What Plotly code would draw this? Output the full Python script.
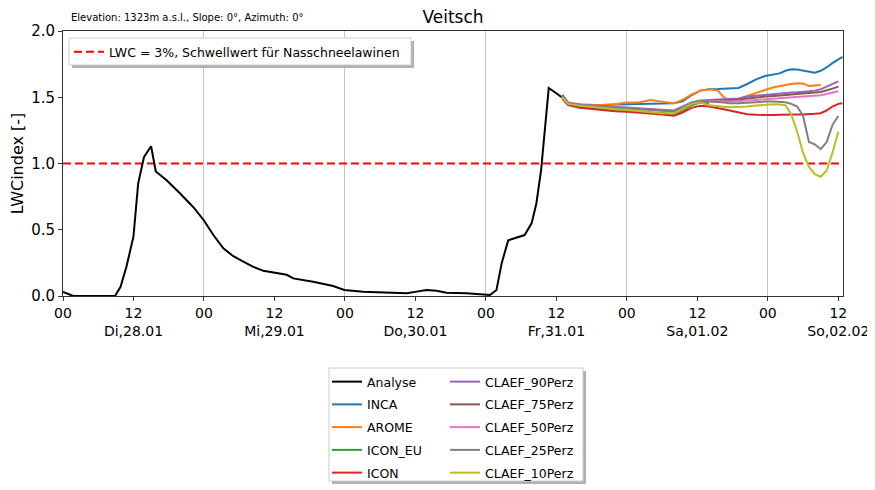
import plotly.graph_objects as go

# ---------------- data ----------------
# hours since Di 28.01 00:00
analyse_h = [0, 1.75, 5, 8.85, 9.8, 10.8, 12, 12.8, 13.8, 15, 15.8, 17.6, 19.9, 22.2, 24, 25.6,
             27.3, 29, 30.7, 32.4, 34.1, 36.4, 38.1, 39.2, 42.6, 46, 47.9, 51.1, 55, 58.5, 60.2,
             61.9, 63.6, 65.3, 68.7, 71, 72.7, 73.8, 74.7, 75.8, 76.9, 78.6, 79.8, 80.6, 81.4,
             82.0, 82.7, 84.0, 84.9]
analyse_v = [0.03, 0.0, 0.0, 0.0, 0.07, 0.22, 0.45, 0.85, 1.05, 1.13, 0.94, 0.875, 0.775, 0.67,
             0.57, 0.46, 0.36, 0.30, 0.26, 0.22, 0.19, 0.176, 0.16, 0.133, 0.108, 0.075, 0.045,
             0.033, 0.028, 0.02, 0.033, 0.045, 0.04, 0.025, 0.02, 0.012, 0.008, 0.045, 0.25, 0.42,
             0.435, 0.46, 0.55, 0.70, 0.95, 1.25, 1.57, 1.53, 1.50]

fc_h = [85, 86, 88, 90, 92, 94, 96, 98, 100, 102, 104, 105.5, 107, 108.5, 110, 111.5, 112.5,
        113.5, 115, 116.5, 118, 119.5, 121, 122, 123, 124, 125, 126, 127, 128, 129, 130, 131,
        132, 132.7]

inca = [1.50, 1.45, 1.445, 1.44, 1.44, 1.445, 1.446, 1.45, 1.45, 1.45, 1.455, 1.47, 1.515, 1.55,
        1.56, 1.562, 1.563, 1.565, 1.57, 1.60, 1.635, 1.66, 1.672, 1.68, 1.70, 1.712, 1.71,
        1.703, 1.695, 1.685, 1.70, 1.725, 1.757, 1.785, 1.805]
arome = [1.50, 1.45, 1.44, 1.44, 1.443, 1.447, 1.46, 1.46, 1.48, 1.467, 1.455, 1.48, 1.52, 1.55,
         1.56, 1.55, 1.50, 1.472, 1.485, 1.51, 1.535, 1.555, 1.575, 1.585, 1.595, 1.60, 1.605,
         1.603, 1.585, 1.59, 1.592, None, None, None, None]
icon_eu = [1.50, 1.445, 1.43, 1.42, 1.41, 1.40, 1.395, 1.39, 1.385, 1.378, 1.375, 1.40, 1.44,
           1.46, 1.455, None, None, None, None, None, None, None, None, None, None, None, None,
           None, None, None, None, None, None, None, None]
icon = [1.49, 1.44, 1.42, 1.41, 1.40, 1.395, 1.39, 1.385, 1.38, 1.37, 1.36, 1.385, 1.42, 1.435,
        1.43, 1.42, 1.41, 1.40, 1.385, 1.372, 1.367, 1.365, 1.366, 1.368, 1.37, 1.37, 1.37, 1.37,
        1.37, 1.375, 1.38, 1.40, 1.43, 1.45, 1.455]
claef_90 = [1.52, 1.46, 1.445, 1.44, 1.435, 1.43, 1.425, 1.42, 1.415, 1.405, 1.40, 1.43, 1.46,
            1.475, 1.478, 1.48, 1.48, 1.482, 1.49, 1.505, 1.512, 1.518, 1.524, 1.528, 1.532,
            1.536, 1.538, 1.54, 1.545, 1.55, 1.56, 1.58, 1.60, 1.62, None]
claef_75 = [1.515, 1.455, 1.44, 1.435, 1.43, 1.425, 1.42, 1.415, 1.41, 1.40, 1.395, 1.425, 1.455,
            1.47, 1.472, 1.474, 1.475, 1.477, 1.482, 1.49, 1.50, 1.505, 1.51, 1.513, 1.516, 1.52,
            1.523, 1.526, 1.53, 1.535, 1.54, 1.55, 1.565, 1.58, None]
claef_50 = [1.51, 1.455, 1.44, 1.435, 1.43, 1.425, 1.42, 1.415, 1.41, 1.40, 1.395, 1.425, 1.455,
            1.47, 1.472, 1.47, 1.47, 1.468, 1.47, 1.475, 1.48, 1.485, 1.49, 1.49, 1.495, 1.50,
            1.50, 1.502, 1.505, 1.51, 1.515, 1.525, 1.535, 1.545, None]
claef_25 = [1.51, 1.455, 1.44, 1.435, 1.43, 1.425, 1.42, 1.415, 1.41, 1.40, 1.395, 1.42, 1.455,
            1.47, 1.47, 1.465, 1.46, 1.455, 1.455, 1.46, 1.465, 1.467, 1.467, 1.467, 1.462, 1.45,
            1.43, 1.36, 1.163, 1.145, 1.108, 1.16, 1.29, 1.358, None]
claef_10 = [1.50, 1.45, 1.435, 1.425, 1.415, 1.41, 1.404, 1.395, 1.39, 1.38, 1.38, 1.41, 1.45,
            1.46, 1.44, 1.43, 1.428, 1.425, 1.425, 1.43, 1.438, 1.445, 1.447, 1.445, 1.44, 1.37,
            1.24, 1.08, 0.975, 0.92, 0.90, 0.945, 1.08, 1.24, None]

threshold_v = 1.0
x_range = [0, 132.8]
tick_hours = [0, 12, 24, 36, 48, 60, 72, 84, 96, 108, 120, 132]
day_labels = ["Di,28.01", "Mi,29.01", "Do,30.01", "Fr,31.01", "Sa,01.02", "So,02.02"]
midnight_hours = [24, 48, 72, 96, 120]
y_ticks = [0.0, 0.5, 1.0, 1.5, 2.0]

# ---------------- figure ----------------
FONT = "DejaVu Sans"
fig = go.Figure()

fig.add_trace(go.Scatter(x=x_range, y=[threshold_v, threshold_v], mode="lines",
                         name="LWC = 3%, Schwellwert für Nasschneelawinen",
                         line=dict(color="#ff0000", width=2, dash="8px,4px"),
                         legend="legend"))

left_col = [("Analyse", analyse_h, analyse_v, "#000000"),
            ("INCA", fc_h, inca, "#1f77b4"),
            ("AROME", fc_h, arome, "#ff7f0e"),
            ("ICON_EU", fc_h, icon_eu, "#2ca02c"),
            ("ICON", fc_h, icon, "#d62728")]
right_col = [("CLAEF_90Perz", fc_h, claef_90, "#9467bd"),
             ("CLAEF_75Perz", fc_h, claef_75, "#8c564b"),
             ("CLAEF_50Perz", fc_h, claef_50, "#e377c2"),
             ("CLAEF_25Perz", fc_h, claef_25, "#7f7f7f"),
             ("CLAEF_10Perz", fc_h, claef_10, "#bcbd22")]

for lg, col in (("legend2", left_col), ("legend3", right_col)):
    for name, xs, ys, c in col:
        fig.add_trace(go.Scatter(x=xs, y=ys, mode="lines", name=name, legendgroup=name,
                                 line=dict(color=c, width=2), legend=lg,
                                 connectgaps=False))

tick_text = []
for i, h in enumerate(tick_hours):
    if i % 2 == 0:
        tick_text.append("00")
    else:
        tick_text.append("12<br>" + day_labels[i // 2])

# page body has an 8px margin: figure occupies window pixels 8..875 / 8..490
OFF = 8
WIN_W, WIN_H = 875, 490
W, H = WIN_W - OFF, WIN_H - OFF
# plot area in window pixels: x 63..843, y 31..296
PX0, PX1, PY0, PY1 = 63, 843, 31, 296
L, R, T, B = PX0 - OFF, WIN_W - PX1, PY0 - OFF, WIN_H - PY1
pw, ph = PX1 - PX0, PY1 - PY0


def px(xw):
    return (xw - PX0) / pw


def py(yw):
    return (PY1 - yw) / ph


LEG_FONT = dict(size=12.5, family=FONT)

fig.update_layout(
    width=W, height=H,
    margin=dict(l=L, r=R, t=T, b=B, autoexpand=False),
    paper_bgcolor="white", plot_bgcolor="white",
    font=dict(family=FONT, size=13, color="black"),
    title=dict(text="Veitsch", x=0.5, xref="paper", xanchor="center",
               y=1 - (17 - OFF) / H, yref="container", yanchor="middle",
               font=dict(size=17, family=FONT, color="black")),
    showlegend=True,
    legend=dict(x=px(69), y=py(37), xanchor="left", yanchor="top",
                bgcolor="rgba(0,0,0,0)", borderwidth=0, font=LEG_FONT),
    legend2=dict(x=px(327), y=py(367), xanchor="left", yanchor="top",
                 bgcolor="rgba(0,0,0,0)", borderwidth=0, tracegroupgap=3.5,
                 font=LEG_FONT),
    legend3=dict(x=px(445), y=py(367), xanchor="left", yanchor="top",
                 bgcolor="rgba(0,0,0,0)", borderwidth=0, tracegroupgap=3.5,
                 font=LEG_FONT),
    xaxis=dict(range=x_range, tickmode="array", tickvals=tick_hours, ticktext=tick_text,
               showgrid=False, zeroline=False, showline=True, linecolor="#333333",
               linewidth=1, mirror=True, ticks="outside", ticklen=4, tickcolor="#333333",
               tickfont=dict(size=14, family=FONT),
               minor=dict(tickmode="array", tickvals=midnight_hours, showgrid=True,
                          gridcolor="#c4c4c4", gridwidth=1, ticks="")),
    yaxis=dict(range=[0, 2], tickmode="array", tickvals=y_ticks, tickformat=".1f",
               showgrid=False, zeroline=False, showline=True, linecolor="#333333",
               linewidth=1, mirror=True, ticks="outside", ticklen=4, tickcolor="#333333",
               tickfont=dict(size=15, family=FONT),
               title=dict(text="LWCindex [-]", font=dict(size=16, family=FONT), standoff=6)),
)

# subtitle
fig.add_annotation(text="Elevation: 1323m a.s.l., Slope: 0°, Azimuth: 0°",
                   xref="paper", yref="paper", x=px(69), y=py(17), xanchor="left",
                   yanchor="middle", showarrow=False, font=dict(size=10, family=FONT))


# legend boxes (frame + shadow), given in window pixels
def legend_box(x0, y0, x1, y1):
    fig.add_shape(type="rect", xref="paper", yref="paper", layer="above",
                  x0=px(x0 + 3), x1=px(x1 + 3), y0=py(y1 + 3), y1=py(y0 + 3),
                  fillcolor="#b0b0b0", line=dict(width=0))
    fig.add_shape(type="rect", xref="paper", yref="paper", layer="above",
                  x0=px(x0), x1=px(x1), y0=py(y1), y1=py(y0),
                  fillcolor="white", line=dict(color="#cccccc", width=1))


legend_box(69, 38, 411, 65)
legend_box(329, 368, 583, 481)

fig.write_html("out.html")
